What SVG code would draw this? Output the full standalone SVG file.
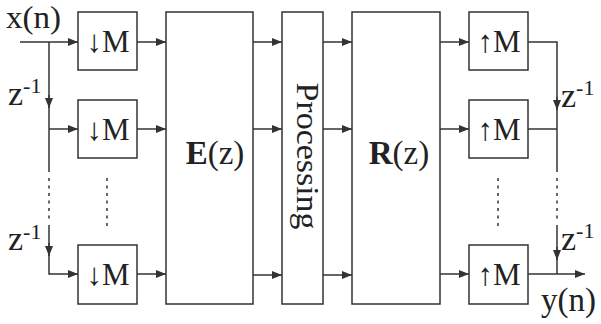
<svg xmlns="http://www.w3.org/2000/svg" width="601" height="324" viewBox="0 0 601 324">
<defs>
<marker id="ah" viewBox="0 0 10 8" refX="10" refY="4" markerWidth="10" markerHeight="8" markerUnits="userSpaceOnUse" orient="auto"><path d="M0,0 L10,4 L0,8 z" fill="#333"/></marker>
<style>
.box{fill:#fff;stroke:#333;stroke-width:1.5}
.ln{fill:none;stroke:#333;stroke-width:1.5}
.ar{fill:none;stroke:#333;stroke-width:1.5;marker-end:url(#ah)}
.dot{fill:none;stroke:#333;stroke-width:1.5;stroke-dasharray:3 4.5}
.t{font-family:"Liberation Serif","Times New Roman",serif;fill:#222}
.m{font-size:31px;text-anchor:middle}
.big{font-size:33px}
.z{font-size:34px}
.sup{font-size:22px}
</style>
</defs>
<rect width="601" height="324" fill="#fff"/>
<g id="connectors">
<line class="ar" x1="20" y1="42" x2="78" y2="42"/>
<line class="ln" x1="49" y1="42" x2="49" y2="98"/>
<line class="ar" x1="49" y1="95" x2="49" y2="108"/>
<line class="ln" x1="49" y1="106" x2="49" y2="172"/>
<line class="ar" x1="49" y1="129" x2="78" y2="129"/>
<line class="dot" x1="49" y1="178" x2="49" y2="222"/>
<line class="ln" x1="49" y1="225" x2="49" y2="246"/>
<line class="ar" x1="49" y1="243" x2="49" y2="256"/>
<polyline class="ln" points="49,254 49,274 70,274"/>
<line class="ar" x1="68" y1="274" x2="78" y2="274"/>
<line class="dot" x1="107" y1="178" x2="107" y2="228"/>
<line class="ar" x1="137" y1="42" x2="166" y2="42"/>
<line class="ar" x1="137" y1="129" x2="166" y2="129"/>
<line class="ar" x1="137" y1="274" x2="166" y2="274"/>
<line class="ar" x1="253" y1="42" x2="282" y2="42"/>
<line class="ar" x1="253" y1="129" x2="282" y2="129"/>
<line class="ar" x1="253" y1="275" x2="282" y2="275"/>
<line class="ar" x1="323" y1="42" x2="352" y2="42"/>
<line class="ar" x1="323" y1="129" x2="352" y2="129"/>
<line class="ar" x1="323" y1="275" x2="352" y2="275"/>
<line class="ar" x1="440" y1="42" x2="469" y2="42"/>
<line class="ar" x1="440" y1="129" x2="469" y2="129"/>
<line class="ar" x1="440" y1="274" x2="469" y2="274"/>
<polyline class="ln" points="528,42 557,42 557,100"/>
<line class="ar" x1="557" y1="97" x2="557" y2="110"/>
<line class="ln" x1="557" y1="108" x2="557" y2="172"/>
<line class="ln" x1="528" y1="129" x2="557" y2="129"/>
<line class="dot" x1="557" y1="178" x2="557" y2="222"/>
<line class="ln" x1="557" y1="225" x2="557" y2="250"/>
<line class="ar" x1="557" y1="247" x2="557" y2="260"/>
<line class="ln" x1="557" y1="258" x2="557" y2="274"/>
<line class="ar" x1="528" y1="274" x2="585" y2="274"/>
<line class="dot" x1="498" y1="178" x2="498" y2="228"/>
</g>
<g id="down1"><rect class="box" x="78" y="12" width="59" height="58"/><text class="t m" x="108" y="52">↓M</text></g>
<g id="down2"><rect class="box" x="78" y="100" width="59" height="58"/><text class="t m" x="108" y="140">↓M</text></g>
<g id="down3"><rect class="box" x="78" y="245" width="59" height="59"/><text class="t m" x="108" y="285">↓M</text></g>
<g id="E"><rect class="box" x="166" y="12" width="87" height="292"/><text class="t big" x="215" y="164" text-anchor="middle"><tspan font-weight="bold">E</tspan>(z)</text></g>
<g id="processing"><rect class="box" x="282" y="12" width="41" height="292"/><text class="t" font-size="31" transform="translate(297,156) rotate(90)" text-anchor="middle" textLength="147" lengthAdjust="spacingAndGlyphs">Processing</text></g>
<g id="R"><rect class="box" x="352" y="12" width="88" height="292"/><text class="t big" x="399" y="164" text-anchor="middle"><tspan font-weight="bold">R</tspan>(z)</text></g>
<g id="up1"><rect class="box" x="469" y="12" width="59" height="58"/><text class="t m" x="499" y="52">↑M</text></g>
<g id="up2"><rect class="box" x="469" y="100" width="59" height="58"/><text class="t m" x="499" y="140">↑M</text></g>
<g id="up3"><rect class="box" x="469" y="245" width="59" height="59"/><text class="t m" x="499" y="285">↑M</text></g>
<g id="labels">
<text class="t" font-size="31" x="6" y="28" textLength="55" lengthAdjust="spacingAndGlyphs">x(n)</text>
<text class="t big" x="541" y="311">y(n)</text>
<text class="t z" x="8" y="105">z<tspan class="sup" dy="-12">-1</tspan></text>
<text class="t z" x="8" y="250">z<tspan class="sup" dy="-11">-1</tspan></text>
<text class="t z" x="561" y="107">z<tspan class="sup" dy="-12">-1</tspan></text>
<text class="t z" x="561" y="250">z<tspan class="sup" dy="-12">-1</tspan></text>
</g>
</svg>
